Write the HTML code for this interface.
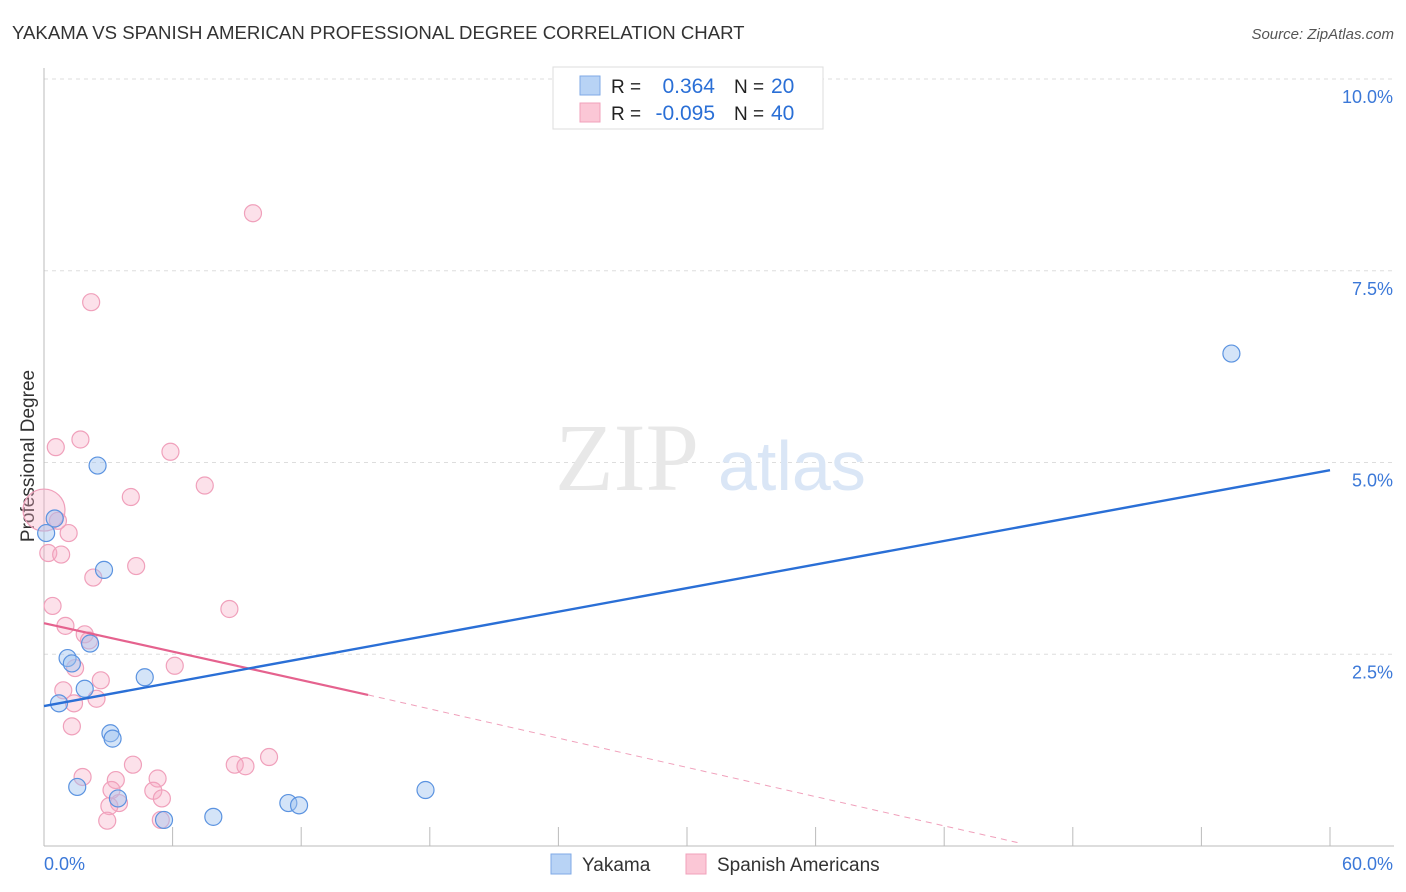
<!DOCTYPE html>
<html><head><meta charset="utf-8">
<style>
body{margin:0;background:#fff;font-family:"Liberation Sans",sans-serif;}
#c{position:absolute;left:0;top:0;}
</style></head>
<body>
<svg id="c" width="1406" height="892"></svg>
<script>
const yakamaX=[2.5,0.5,0.1,2.8,2.15,1.1,1.3,4.7,1.9,0.7,3.1,3.2,1.55,3.45,5.6,7.9,11.4,11.9,17.8,55.4];
const yakamaY=[4.96,4.27,4.08,3.6,2.64,2.45,2.38,2.2,2.05,1.86,1.47,1.4,0.77,0.62,0.34,0.38,0.56,0.53,0.73,6.42];
const spanishX=[9.75,2.2,0.55,1.7,5.9,7.5,4.05,0.65,1.15,0.2,0.8,2.3,4.3,0.4,8.65,1.0,1.9,2.1,1.45,6.1,2.65,0.9,2.45,1.4,1.3,4.15,1.8,8.9,9.4,10.5,3.35,5.3,3.15,5.1,3.5,5.5,3.05,2.95,5.45,0.0];
const spanishY=[8.25,7.09,5.2,5.3,5.14,4.7,4.55,4.24,4.08,3.82,3.8,3.5,3.65,3.13,3.09,2.87,2.76,2.68,2.32,2.35,2.16,2.03,1.92,1.86,1.56,1.06,0.9,1.06,1.04,1.16,0.86,0.88,0.73,0.72,0.56,0.62,0.52,0.33,0.34,4.38];
const blueLine=[[0,1.825],[60,4.9]];
const pinkSolid=[[0,2.905],[15.12,1.97]];
const pinkDash=[[15.12,1.97],[45.5,0.04]];
const yTicks=[2.5,5,7.5,10];
const yTickLabels=["2.5%","5.0%","7.5%","10.0%"];
const xTicks=[0,6,12,18,24,30,36,42,48,54,60];

const NS="http://www.w3.org/2000/svg";
const svg=document.getElementById('c');
const X=v=>44+v*(1286/60);
const Y=v=>846-v*76.7;
function mk(t,a,txt){const e=document.createElementNS(NS,t);for(const k in a)e.setAttribute(k,a[k]);if(txt!==undefined)e.textContent=txt;svg.appendChild(e);return e;}

let e;
e=mk('text',{x:12,y:39,'font-size':18.6,fill:'#333'},'YAKAMA VS SPANISH AMERICAN PROFESSIONAL DEGREE CORRELATION CHART');


e=mk('text',{x:1394,y:39,'font-size':15,fill:'#555','font-style':'italic','text-anchor':'end'},'Source: ZipAtlas.com');



yTicks.forEach((t,i)=>{
  e=mk('line',{x1:44,x2:1394,y1:Y(t),y2:Y(t),stroke:'#ddd','stroke-dasharray':'4,4'});
  
  
  e=mk('text',{x:1393,y:Y(t)+24,'font-size':18,fill:'#3b78d8','text-anchor':'end'},yTickLabels[i]);
  
  
});
e=mk('line',{x1:44,x2:44,y1:68,y2:846,stroke:'#bbb'});


e=mk('line',{x1:44,x2:1394,y1:846,y2:846,stroke:'#bbb'});


xTicks.forEach(t=>{
  e=mk('line',{x1:X(t),x2:X(t),y1:827,y2:846,stroke:'#bbb'});
  
  
});
e=mk('text',{x:44,y:870,'font-size':18,fill:'#3b78d8'},'0.0%');


e=mk('text',{x:1393,y:870,'font-size':18,fill:'#3b78d8','text-anchor':'end'},'60.0%');


e=mk('text',{x:34,y:456,'font-size':19,fill:'#333','text-anchor':'middle',transform:'rotate(-90 34 456)'},'Professional Degree');



e=mk('text',{x:555,y:490,'font-size':96,fill:'#e8e8e8','font-family':'Liberation Serif,serif'},'ZIP');


e=mk('text',{x:718,y:490,'font-size':70,fill:'#dae6f6'},'atlas');



spanishX.forEach((x,i)=>{
  const big=(i>=spanishX.length-1);
  e=mk('circle',{cx:X(x),cy:Y(spanishY[i]),r:big?21:8.5,fill:'rgba(246,168,194,0.35)',stroke:'#f0a0bb','stroke-width':1.2});
  
  
});
yakamaX.forEach((x,i)=>{
  e=mk('circle',{cx:X(x),cy:Y(yakamaY[i]),r:8.5,fill:'rgba(160,196,240,0.45)',stroke:'#5b93e0','stroke-width':1.2});
  
  
});
e=mk('line',{x1:X(pinkDash[0][0]),y1:Y(pinkDash[0][1]),x2:X(pinkDash[1][0]),y2:Y(pinkDash[1][1]),stroke:'#f0a0bb','stroke-width':1,'stroke-dasharray':'6,5'});


e=mk('line',{x1:X(pinkSolid[0][0]),y1:Y(pinkSolid[0][1]),x2:X(pinkSolid[1][0]),y2:Y(pinkSolid[1][1]),stroke:'#e5628e','stroke-width':2.2});


e=mk('line',{x1:X(blueLine[0][0]),y1:Y(blueLine[0][1]),x2:X(blueLine[1][0]),y2:Y(blueLine[1][1]),stroke:'#2a6fd6','stroke-width':2.4});



e=mk('rect',{x:553,y:67,width:270,height:62,fill:'#fff',stroke:'#ddd'});


e=mk('rect',{x:580,y:76,width:20,height:19,fill:'#b8d3f5',stroke:'#7fa9e6'});


e=mk('rect',{x:580,y:103,width:20,height:19,fill:'#fbc7d6',stroke:'#f0a0bb'});


const rows=[[93,'0.364','20'],[120,'-0.095','40']];
rows.forEach(r=>{
  e=mk('text',{x:611,y:r[0],'font-size':19,fill:'#222'},'R =');
  
  
  e=mk('text',{x:715,y:r[0],'font-size':21,fill:'#2a6fd6','text-anchor':'end'},r[1]);
  
  
  e=mk('text',{x:734,y:r[0],'font-size':19,fill:'#222'},'N =');
  
  
  e=mk('text',{x:771,y:r[0],'font-size':21,fill:'#2a6fd6'},r[2]);
  
  
});

e=mk('rect',{x:551,y:854,width:20,height:20,fill:'#b8d3f5',stroke:'#7fa9e6'});


e=mk('text',{x:582,y:871,'font-size':19,fill:'#333'},'Yakama');


e=mk('rect',{x:686,y:854,width:20,height:20,fill:'#fbc7d6',stroke:'#f0a0bb'});


e=mk('text',{x:717,y:871,'font-size':19,fill:'#333'},'Spanish Americans');


</script>
</body></html>
